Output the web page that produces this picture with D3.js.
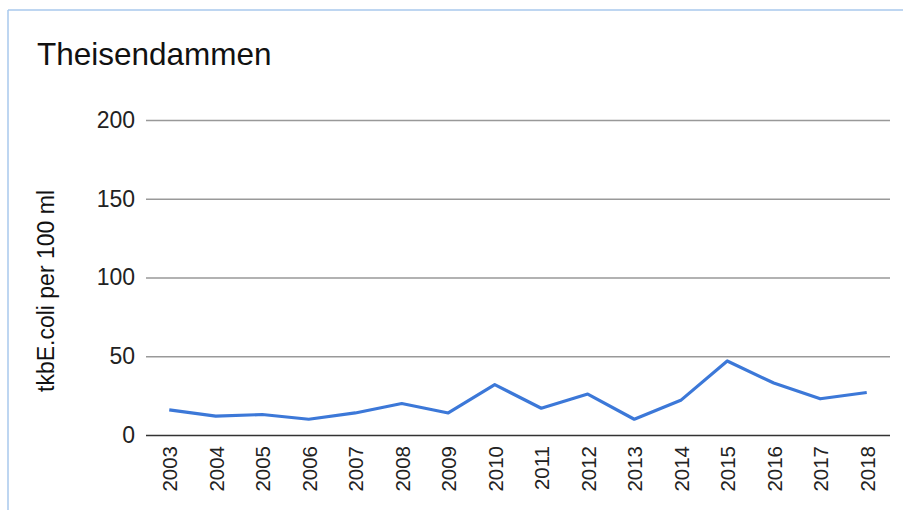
<!DOCTYPE html>
<html>
<head>
<meta charset="utf-8">
<script src="https://cdn.jsdelivr.net/npm/d3@7"></script>
<style>
  html, body { margin: 0; padding: 0; background: #fff; }
  svg { display: block; font-family: "Liberation Sans", Arial, sans-serif; }
</style>
</head>
<body>
<svg id="chart" width="903" height="510"></svg>
<script>
const title = "Theisendammen";
const yTitle = "tkbE.coli per 100 ml";
const years = ["2003","2004","2005","2006","2007","2008","2009","2010","2011","2012","2013","2014","2015","2016","2017","2018"];
const values = [16, 12, 13, 10, 14, 20, 14, 32, 17, 26, 10, 22, 47, 33, 23, 27];
const yTicks = [0, 50, 100, 150, 200];

const svg = d3.select("#chart");
const W = 903, H = 510;
const plot = { left: 146, right: 890, top: 120, bottom: 435 };

// frame border (light blue)
svg.append("line").attr("x1", 8).attr("x2", W).attr("y1", 10).attr("y2", 10)
  .attr("stroke", "#a9c9ec").attr("stroke-width", 1.5);
svg.append("line").attr("x1", 8).attr("x2", 8).attr("y1", 10).attr("y2", H)
  .attr("stroke", "#a9c9ec").attr("stroke-width", 1.5);

const x = d3.scalePoint().domain(years).range([plot.left, plot.right]).padding(0.5);
const y = d3.scaleLinear().domain([0, 200]).range([plot.bottom, plot.top]);

// gridlines
const yAxis = d3.axisLeft(y).tickValues(yTicks).tickSize(-(plot.right - plot.left)).tickPadding(11);
const gy = svg.append("g").attr("transform", `translate(${plot.left},0)`).call(yAxis);
gy.select(".domain").remove();
gy.selectAll(".tick line").attr("stroke", d => d === 0 ? "#333" : "#999")
  .attr("stroke-width", d => d === 0 ? 1.6 : 1.3);
gy.selectAll(".tick text").attr("font-size", "23px").attr("fill", "#222")
  .attr("font-family", "Liberation Sans, Arial, sans-serif");

// x axis labels
const xAxis = d3.axisBottom(x).tickSize(0).tickPadding(0);
const gx = svg.append("g").attr("transform", `translate(0,${plot.bottom})`).call(xAxis);
gx.select(".domain").remove();
gx.selectAll(".tick text")
  .attr("font-size", "20.5px").attr("fill", "#222")
  .attr("font-family", "Liberation Sans, Arial, sans-serif")
  .attr("text-anchor", "end")
  .attr("transform", "translate(0,11) rotate(-90)")
  .attr("x", 0).attr("y", 0).attr("dy", "0.36em");

// line
const line = d3.line().x((d, i) => x(years[i])).y(d => y(d));
svg.append("path").datum(values)
  .attr("d", line).attr("fill", "none")
  .attr("stroke", "#3c78d8").attr("stroke-width", 3.2)
  .attr("stroke-linejoin", "round").attr("stroke-linecap", "butt");

// title
svg.append("text").attr("x", 37).attr("y", 65).text(title)
  .attr("font-size", "31.5px").attr("fill", "#111");

// y-axis title
svg.append("text")
  .attr("transform", `translate(54,291) rotate(-90)`)
  .attr("text-anchor", "middle")
  .attr("font-size", "23px").attr("fill", "#111")
  .text(yTitle);
</script>
</body>
</html>
